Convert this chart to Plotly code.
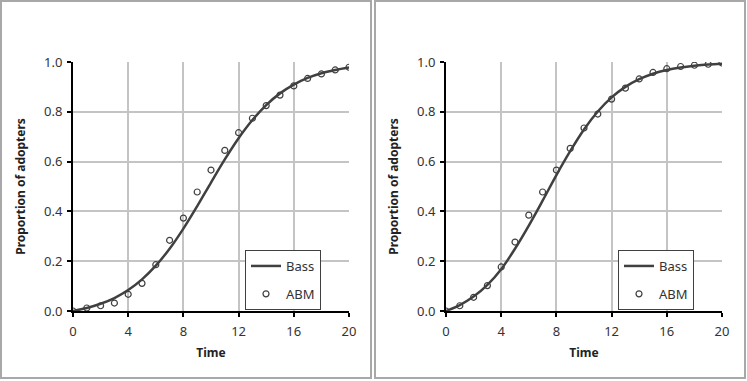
import plotly.graph_objects as go

# time steps
time = list(range(0, 21))

# left panel
bass_left = [0.0, 0.012, 0.029, 0.052, 0.084, 0.127, 0.182, 0.250, 0.331, 0.421,
             0.516, 0.609, 0.694, 0.767, 0.827, 0.874, 0.909, 0.936, 0.955, 0.968, 0.978]
abm_left = [0.0, 0.012, 0.021, 0.032, 0.067, 0.111, 0.186, 0.284, 0.373, 0.478,
            0.566, 0.645, 0.716, 0.774, 0.825, 0.867, 0.904, 0.934, 0.952, 0.968, 0.979]

# right panel
bass_right = [0.0, 0.024, 0.058, 0.105, 0.168, 0.250, 0.343, 0.443, 0.546, 0.642,
              0.729, 0.801, 0.858, 0.900, 0.931, 0.953, 0.968, 0.978, 0.985, 0.990, 0.993]
abm_right = [0.0, 0.021, 0.055, 0.102, 0.177, 0.277, 0.385, 0.478, 0.566, 0.653,
             0.735, 0.791, 0.851, 0.895, 0.932, 0.958, 0.973, 0.982, 0.987, 0.991, 0.996]

x_ticks = [0, 4, 8, 12, 16, 20]
y_ticks = [0.0, 0.2, 0.4, 0.6, 0.8, 1.0]

W, H = 747, 381
FONT = "Noto Sans"
LINE_COL = "#404040"

fig = go.Figure()

panels = [
    (bass_left, abm_left, "x", "y", "legend"),
    (bass_right, abm_right, "x2", "y2", "legend2"),
]
for bass, abm, xa, ya, lg in panels:
    fig.add_trace(go.Scatter(
        x=time, y=bass, name="Bass", mode="lines",
        line=dict(color=LINE_COL, width=2.5, shape="spline"),
        xaxis=xa, yaxis=ya, legend=lg, legendgroup="bass" + xa,
    ))
    fig.add_trace(go.Scatter(
        x=time, y=abm, name="ABM", mode="markers",
        marker=dict(symbol="circle-open", size=6, color=LINE_COL, line=dict(width=1.2)),
        xaxis=xa, yaxis=ya, legend=lg, legendgroup="abm" + xa,
    ))

y_dom = [(H - 311) / H, (H - 62) / H]
x_doms = [[73 / W, 349 / W], [446 / W, 722 / W]]

axis_common = dict(
    showgrid=True, gridcolor="#c4c4c4", gridwidth=1.5,
    showline=True, linecolor="black", linewidth=2,
    ticks="outside", ticklen=4, tickcolor="black", tickwidth=1.5,
    tickfont=dict(family=FONT, size=13, color="#333333"),
    zeroline=False, fixedrange=True, automargin=False,
)
title_font = dict(family=FONT, size=12, color="#222222", weight="bold")

layout = dict(
    width=W, height=H,
    margin=dict(l=0, r=0, t=0, b=0),
    paper_bgcolor="white", plot_bgcolor="white",
    showlegend=True,
)
for i, suffix in enumerate(["", "2"]):
    layout["xaxis" + suffix] = dict(
        axis_common, domain=x_doms[i], range=[0, 20], tickvals=x_ticks,
        anchor="y" + suffix, ticklabelstandoff=3,
        title=dict(text="Time", font=title_font, standoff=10),
    )
    layout["yaxis" + suffix] = dict(
        axis_common, domain=y_dom, range=[0, 1], tickvals=y_ticks,
        tickformat=".1f", anchor="x" + suffix, ticklabelstandoff=2,
        title=dict(text="Proportion of adopters", font=title_font, standoff=16),
    )
    layout["legend" + suffix] = dict(
        x=(245 + 373 * i) / W, y=(H - 250) / H, xanchor="left", yanchor="top",
        bgcolor="white", bordercolor=LINE_COL, borderwidth=1,
        font=dict(family=FONT, size=13, color="#333333"),
        tracegroupgap=8, itemwidth=30,
    )
fig.update_layout(**layout)

# outer panel frames
for x0, x1 in [(1, 371), (375, 745)]:
    fig.add_shape(type="rect", xref="paper", yref="paper",
                  x0=x0 / W, x1=x1 / W, y0=(H - 378) / H, y1=(H - 1) / H,
                  line=dict(color="#a8a8a8", width=2), fillcolor="rgba(0,0,0,0)")

# page body has a default 8px margin; drop it so the figure sits at the corner
fig.write_html("out.html", config={"displayModeBar": False},
               post_script="document.body.style.margin='0';")
